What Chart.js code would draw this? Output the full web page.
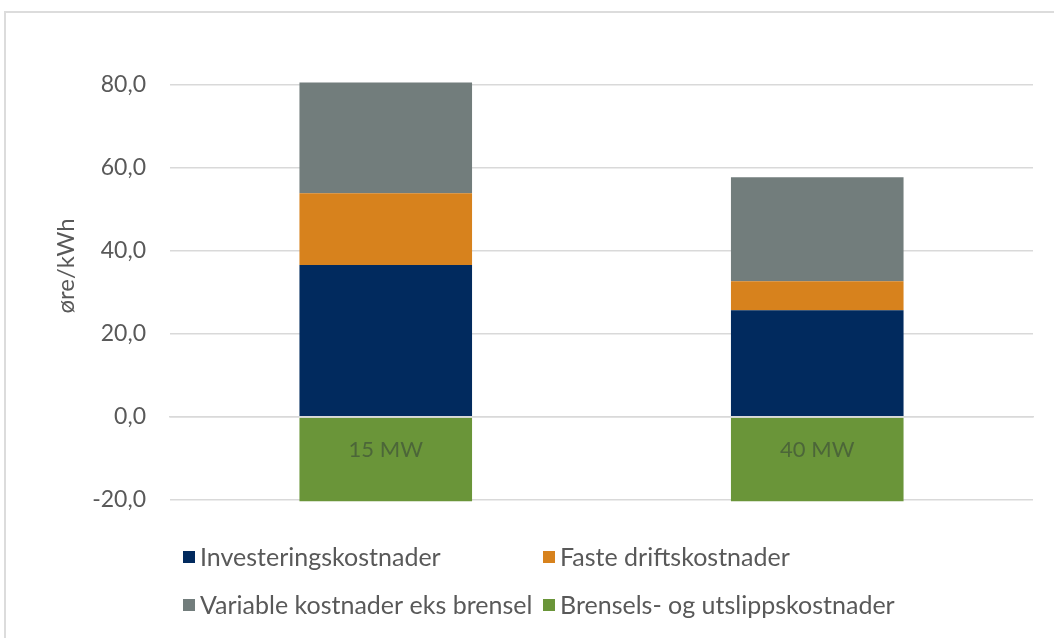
<!DOCTYPE html>
<html lang="no">
<head>
<meta charset="utf-8">
<title>Kostnader øre/kWh</title>
<script src="https://cdn.jsdelivr.net/npm/chart.js@4/dist/chart.umd.min.js"></script>
<style>
  html, body { margin: 0; padding: 0; background: #fff; }
  #frame {
    position: absolute; left: 4px; top: 11px;
    width: 1070px; height: 650px;
    border: 2px solid #dcdcdc; box-sizing: border-box;
  }
  #wrap { position: absolute; left: 0; top: 0; width: 1054px; height: 638px; }
</style>
</head>
<body>
<div id="frame"></div>
<div id="wrap"><canvas id="chart"></canvas></div>
<script>
// --- data ---
const kategorier      = ['15 MW', '40 MW'];
const investering     = [36.6, 25.7];
const fasteDrift      = [17.3, 7.0];
const variableKost    = [26.7, 25.1];
const brenselUtslipp  = [-20.3, -20.3];
const yTicks          = [-20, 0, 20, 40, 60, 80];
const yTittel         = 'øre/kWh';

const FONT = 'Lato, "Open Sans", sans-serif';
const GREY_TXT = '#595959';

// legend in a 2x2 grid + axis title sitting a bit above centre, like the Excel original
const excelPynt = {
  id: 'excelPynt',
  afterDraw(chart) {
    const { ctx, chartArea } = chart;
    const cols = [chartArea.left + 13, chartArea.left + 373];
    const rows = [chartArea.bottom + 57, chartArea.bottom + 105];
    ctx.save();
    ctx.font = '25px ' + FONT;
    ctx.textBaseline = 'middle';
    chart.data.datasets.forEach((ds, i) => {
      const x = cols[i % 2];
      const y = rows[Math.floor(i / 2)];
      ctx.fillStyle = ds.backgroundColor;
      ctx.fillRect(x, y - 6, 12, 12);
      ctx.fillStyle = GREY_TXT;
      ctx.fillText(ds.label, x + 17, y + 1);
    });

    // y title
    ctx.translate(chartArea.left - 104, chartArea.top + 181);
    ctx.rotate(-Math.PI / 2);
    ctx.font = '24px ' + FONT;
    ctx.textAlign = 'center';
    ctx.fillText(yTittel, 0, 0);
    ctx.restore();
  }
};

new Chart(document.getElementById('chart'), {
  type: 'bar',
  data: {
    labels: kategorier,
    datasets: [
      { label: 'Investeringskostnader',            data: investering,    backgroundColor: '#012A5E' },
      { label: 'Faste driftskostnader',            data: fasteDrift,     backgroundColor: '#D7821D' },
      { label: 'Variable kostnader eks brensel',   data: variableKost,   backgroundColor: '#727D7C' },
      { label: 'Brensels- og utslippskostnader',   data: brenselUtslipp, backgroundColor: '#6A9539' }
    ]
  },
  options: {
    responsive: true,
    maintainAspectRatio: false,
    animation: false,
    datasets: {
      bar: { categoryPercentage: 1, barPercentage: 0.4, borderWidth: 0, clip: false }
    },
    layout: { padding: { top: 85, right: 21, bottom: 138, left: 53 } },
    plugins: {
      legend: { display: false },
      tooltip: { enabled: false }
    },
    scales: {
      x: {
        stacked: true,
        position: { y: 0 },
        grid: { display: false, drawTicks: false },
        border: { display: true, color: '#d9d9d9', width: 1.5, z: 1 },
        ticks: {
          z: 1,
          padding: 20,
          font: { family: FONT, size: 22 },
          color: '#4c6639'
        },
        afterFit: s => { s.height = 0; }
      },
      y: {
        stacked: true,
        min: -20,
        max: 80,
        afterBuildTicks: s => { s.ticks = yTicks.map(v => ({ value: v })); },
        afterFit: s => { s.width = 117; },
        grid: { color: '#d9d9d9', lineWidth: 1.5, drawTicks: false },
        border: { display: false },
        ticks: {
          padding: 24,
          font: { family: FONT, size: 23 },
          color: GREY_TXT,
          callback: v => v.toFixed(1).replace('.', ',')
        }
      }
    }
  },
  plugins: [excelPynt]
});
</script>
</body>
</html>
